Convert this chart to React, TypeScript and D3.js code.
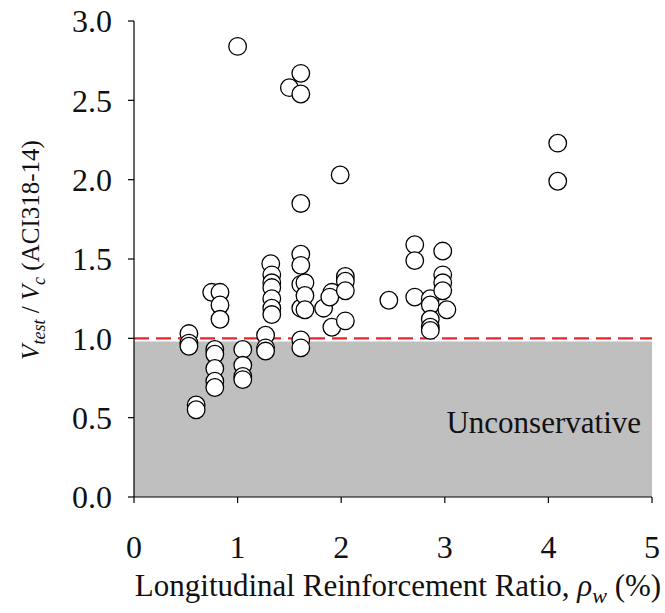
import React from "react";
import * as d3 from "d3";

// Longitudinal reinforcement ratio (%) and measured/predicted shear strength ratio
const rho: number[] = [
  0.53, 0.53, 0.53,
  0.6, 0.6,
  0.75, 0.83, 0.83, 0.83,
  0.78, 0.78, 0.78, 0.78, 0.78,
  1.0,
  1.05, 1.05, 1.05, 1.05,
  1.27, 1.27, 1.27,
  1.32, 1.33, 1.33, 1.33, 1.33, 1.33, 1.33,
  1.5,
  1.61, 1.61, 1.61, 1.61, 1.61, 1.61, 1.61, 1.61, 1.61,
  1.65, 1.65, 1.65,
  1.83,
  1.91, 1.89, 1.91,
  1.99,
  2.04, 2.04, 2.04, 2.04,
  2.46,
  2.71, 2.71, 2.71,
  2.86, 2.86, 2.86, 2.86, 2.86,
  2.98, 2.98, 2.98, 2.98,
  3.02,
  4.09, 4.09,
];

const ratio: number[] = [
  1.03, 0.97, 0.95,
  0.58, 0.55,
  1.29, 1.29, 1.21, 1.12,
  0.93, 0.9, 0.81, 0.73, 0.69,
  2.84,
  0.93, 0.83, 0.76, 0.74,
  1.02, 0.94, 0.92,
  1.47, 1.4, 1.35, 1.32, 1.25, 1.19, 1.15,
  2.58,
  2.67, 2.54, 1.85, 1.53, 1.46, 1.34, 1.19, 0.99, 0.94,
  1.35, 1.27, 1.18,
  1.19,
  1.29, 1.26, 1.07,
  2.03,
  1.39, 1.36, 1.3, 1.11,
  1.24,
  1.59, 1.49, 1.26,
  1.25, 1.21, 1.12, 1.07, 1.05,
  1.55, 1.4, 1.35, 1.3,
  1.18,
  2.23, 1.99,
];

const xTicks: number[] = [0, 1, 2, 3, 4, 5];
const yTicks: number[] = [0, 0.5, 1.0, 1.5, 2.0, 2.5, 3.0];

const W = 665;
const H = 613;
const left = 134;
const right = 652;
const top = 21;
const bottom = 497;

const font = "'Liberation Serif', 'DejaVu Serif', serif";

export default function App() {
  const x = d3.scaleLinear().domain([0, 5]).range([left, right]);
  const y = d3.scaleLinear().domain([0, 3]).range([bottom, top]);

  const points = rho.map((r, i) => ({ r, v: ratio[i] }));

  return (
    <svg
      width={W}
      height={H}
      style={{ position: "absolute", left: 0, top: 0, background: "#fff" }}
      fontFamily={font}
    >
      {/* unconservative zone */}
      <rect
        x={x(0)}
        y={y(0.98)}
        width={x(5) - x(0)}
        height={y(0) - y(0.98)}
        fill="#bfbfbf"
      />
      <line
        x1={x(0)}
        x2={x(5)}
        y1={y(1.0)}
        y2={y(1.0)}
        stroke="#e8262b"
        strokeWidth={2.2}
        strokeDasharray="15 7"
      />
      <text x={x(4.894)} y={y(0.403)} fontSize={31} textAnchor="end" fill="#111">
        Unconservative
      </text>

      {/* axes */}
      <line x1={left} x2={left} y1={top} y2={bottom} stroke="#000" strokeWidth={1.2} />
      <line x1={left} x2={right} y1={bottom} y2={bottom} stroke="#000" strokeWidth={1.2} />
      {yTicks.map((t) => (
        <g key={"y" + t}>
          <line x1={left - 6} x2={left} y1={y(t)} y2={y(t)} stroke="#000" strokeWidth={1.2} />
          <text
            x={left - 22}
            y={y(t)}
            dy="0.35em"
            fontSize={32}
            textAnchor="end"
            fill="#111"
          >
            {t.toFixed(1)}
          </text>
        </g>
      ))}
      {xTicks.map((t) => (
        <g key={"x" + t}>
          <line x1={x(t)} x2={x(t)} y1={bottom} y2={bottom + 6} stroke="#000" strokeWidth={1.2} />
          <text x={x(t)} y={bottom + 61} fontSize={32} textAnchor="middle" fill="#111">
            {t}
          </text>
        </g>
      ))}

      {/* axis titles */}
      <text x={398} y={596} fontSize={31} textAnchor="middle" fill="#111">
        Longitudinal Reinforcement Ratio,{" "}
        <tspan fontStyle="italic">ρ</tspan>
        <tspan fontStyle="italic" fontSize={22} dy={7}>w</tspan>
        <tspan dy={-7}> (%)</tspan>
      </text>
      <text
        transform={`translate(39, 250) rotate(-90)`}
        fontSize={25}
        textAnchor="middle"
        fill="#111"
      >
        <tspan fontStyle="italic">V</tspan>
        <tspan fontStyle="italic" fontSize={18} dy={6}>test</tspan>
        <tspan dy={-6}> / </tspan>
        <tspan fontStyle="italic">V</tspan>
        <tspan fontStyle="italic" fontSize={18} dy={6}>c</tspan>
        <tspan dy={-6}> (ACI318-14)</tspan>
      </text>

      {/* test specimens */}
      {points.map((p, i) => (
        <circle
          key={i}
          cx={x(p.r)}
          cy={y(p.v)}
          r={8.8}
          fill="#fff"
          stroke="#000"
          strokeWidth={1.3}
        />
      ))}
    </svg>
  );
}
